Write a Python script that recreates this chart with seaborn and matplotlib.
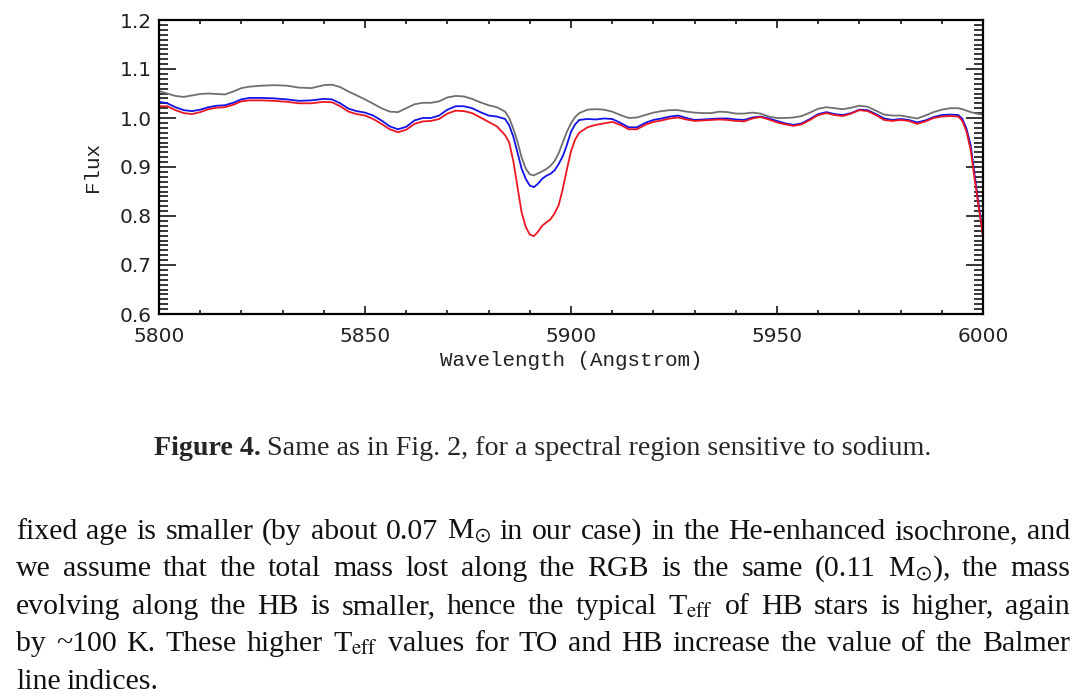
import numpy as np
import pandas as pd
import matplotlib
matplotlib.use("Agg")
import matplotlib.pyplot as plt
from matplotlib.ticker import MultipleLocator, FormatStrFormatter
import seaborn as sns

# wavelength grid (Angstrom) shared by the three synthetic spectra
wavelength = [5800, 5802, 5804, 5806, 5808, 5810, 5812, 5814, 5816, 5818, 5820, 5822,
              5825, 5828, 5831, 5834, 5837, 5840, 5842, 5844, 5846, 5848, 5850, 5852,
              5854, 5856, 5858, 5860, 5862, 5864, 5866, 5868, 5870, 5872, 5874, 5876,
              5878, 5880, 5882, 5884, 5885, 5886, 5887, 5888, 5889, 5890, 5891, 5892,
              5893, 5894, 5895, 5896, 5897, 5898, 5899, 5900, 5901, 5902, 5904, 5906,
              5908, 5910, 5912, 5914, 5916, 5918, 5920, 5922, 5924, 5926, 5928, 5930,
              5932, 5934, 5936, 5938, 5940, 5942, 5944, 5946, 5948, 5950, 5952, 5954,
              5956, 5958, 5960, 5962, 5964, 5966, 5968, 5970, 5972, 5974, 5976, 5978,
              5980, 5982, 5984, 5986, 5988, 5990, 5992, 5994, 5995, 5996, 5997, 5998,
              5999, 6000]

flux_gray = [1.055, 1.050, 1.045, 1.043, 1.046, 1.049, 1.050, 1.049, 1.048, 1.054, 1.061, 1.064,
             1.066, 1.067, 1.066, 1.062, 1.061, 1.067, 1.068, 1.063, 1.054, 1.046, 1.038, 1.029,
             1.020, 1.013, 1.012, 1.020, 1.028, 1.031, 1.031, 1.034, 1.042, 1.045, 1.044, 1.039,
             1.032, 1.026, 1.022, 1.013, 1.000, 0.978, 0.952, 0.920, 0.897, 0.885, 0.883, 0.887,
             0.891, 0.896, 0.902, 0.912, 0.928, 0.950, 0.972, 0.989, 1.002, 1.010, 1.017, 1.018,
             1.017, 1.013, 1.006, 1.000, 1.001, 1.006, 1.011, 1.014, 1.016, 1.016, 1.013, 1.011,
             1.010, 1.010, 1.013, 1.012, 1.009, 1.009, 1.011, 1.009, 1.003, 1.000, 1.000, 1.001,
             1.004, 1.011, 1.019, 1.022, 1.020, 1.018, 1.021, 1.025, 1.023, 1.015, 1.007, 1.005,
             1.005, 1.002, 0.999, 1.005, 1.012, 1.017, 1.020, 1.020, 1.018, 1.015, 1.012, 1.010,
             1.008, 1.007]

flux_blue = [1.033, 1.030, 1.022, 1.016, 1.014, 1.017, 1.022, 1.025, 1.026, 1.031, 1.038, 1.041,
             1.041, 1.040, 1.038, 1.035, 1.036, 1.039, 1.038, 1.030, 1.019, 1.014, 1.011, 1.005,
             0.995, 0.983, 0.977, 0.982, 0.995, 1.000, 1.000, 1.005, 1.017, 1.024, 1.024, 1.020,
             1.012, 1.005, 1.003, 0.998, 0.985, 0.962, 0.930, 0.897, 0.876, 0.862, 0.859, 0.866,
             0.876, 0.882, 0.886, 0.893, 0.906, 0.922, 0.945, 0.972, 0.987, 0.996, 0.998, 0.997,
             0.999, 0.998, 0.990, 0.981, 0.981, 0.990, 0.996, 0.999, 1.003, 1.005, 1.000, 0.996,
             0.997, 0.998, 0.999, 0.999, 0.997, 0.996, 1.001, 1.003, 0.999, 0.994, 0.989, 0.986,
             0.989, 0.998, 1.008, 1.012, 1.008, 1.006, 1.010, 1.017, 1.016, 1.008, 0.999, 0.996,
             0.998, 0.996, 0.991, 0.995, 1.002, 1.006, 1.007, 1.006, 0.998, 0.978, 0.945, 0.882,
             0.820, 0.762]

flux_red = [1.024, 1.024, 1.016, 1.010, 1.008, 1.012, 1.018, 1.021, 1.022, 1.027, 1.034, 1.036,
            1.036, 1.035, 1.033, 1.030, 1.030, 1.033, 1.032, 1.024, 1.013, 1.008, 1.005, 0.998,
            0.988, 0.977, 0.971, 0.976, 0.988, 0.993, 0.994, 0.998, 1.009, 1.015, 1.014, 1.010,
            1.001, 0.992, 0.983, 0.965, 0.950, 0.912, 0.860, 0.808, 0.778, 0.762, 0.759, 0.768,
            0.780, 0.787, 0.793, 0.805, 0.822, 0.855, 0.895, 0.932, 0.956, 0.970, 0.981, 0.986,
            0.989, 0.992, 0.986, 0.977, 0.977, 0.986, 0.992, 0.995, 0.999, 1.001, 0.997, 0.994,
            0.995, 0.996, 0.997, 0.996, 0.994, 0.993, 0.999, 1.002, 0.997, 0.991, 0.987, 0.984,
            0.987, 0.996, 1.006, 1.010, 1.006, 1.004, 1.009, 1.016, 1.014, 1.006, 0.996, 0.994,
            0.996, 0.994, 0.988, 0.993, 1.000, 1.003, 1.004, 1.003, 0.994, 0.972, 0.935, 0.874,
            0.815, 0.758]

models = ['gray', 'blue', 'red']
colors = {'gray': '#6f6f6f', 'blue': '#1212e8', 'red': '#ec1620'}

caption_bold = 'Figure 4.'
caption_rest = 'Same as in Fig. 2, for a spectral region sensitive to sodium.'
body_lines = [
    r'fixed age is smaller (by about 0.07 M$_{\odot}$ in our case) in the He-enhanced isochrone, and',
    r'we assume that the total mass lost along the RGB is the same (0.11 M$_{\odot}$), the mass',
    r'evolving along the HB is smaller, hence the typical T$_{\mathrm{eff}}$ of HB stars is higher, again',
    r'by ~100 K. These higher T$_{\mathrm{eff}}$ values for TO and HB increase the value of the Balmer',
    'line indices.',
]

df = pd.concat([
    pd.DataFrame({'Wavelength': wavelength, 'Flux': f, 'model': m})
    for m, f in zip(models, [flux_gray, flux_blue, flux_red])
])

sns.set_style('white')
plt.rcParams['mathtext.fontset'] = 'stix'

W, H = 1089, 700
fig = plt.figure(figsize=(W / 100, H / 100), dpi=100)
ax = fig.add_axes([159 / W, 1 - 314 / H, 824 / W, 294 / H])

sns.lineplot(data=df, x='Wavelength', y='Flux', hue='model', hue_order=models,
             palette=colors, linewidth=1.3, legend=False, ax=ax, sort=False)

ax.set_xlim(5800, 6000)
ax.set_ylim(0.6, 1.2)
ax.xaxis.set_major_locator(MultipleLocator(50))
ax.xaxis.set_minor_locator(MultipleLocator(10))
ax.yaxis.set_major_locator(MultipleLocator(0.1))
ax.yaxis.set_minor_locator(MultipleLocator(0.01))
ax.yaxis.set_major_formatter(FormatStrFormatter('%.1f'))

for s in ax.spines.values():
    s.set_linewidth(1.6)
    s.set_color('black')
ax.tick_params(which='both', direction='in', top=True, right=True, bottom=True, left=True,
               colors='black', labelsize=14.5, width=1.1)
ax.tick_params(axis='x', which='major', length=5.5, pad=9)
ax.tick_params(axis='x', which='minor', length=2.6)
ax.tick_params(axis='y', which='major', length=12.5, pad=5)
ax.tick_params(axis='y', which='minor', length=6.5)
for lab in ax.get_xticklabels() + ax.get_yticklabels():
    lab.set_fontfamily('DejaVu Sans')
    lab.set_color('#222222')

ax.set_xlabel('Wavelength (Angstrom)', fontfamily='Liberation Mono', fontsize=15, color='#222222')
ax.set_ylabel('Flux', fontfamily='Liberation Mono', fontsize=15, color='#222222')
ax.xaxis.set_label_coords(0.5, -0.125)
ax.yaxis.set_label_coords(-0.069, 0.5)

# caption and body text below the plot
renderer = fig.canvas.get_renderer()
serif = 'Liberation Serif'
cap_y = 1 - 455 / H
t1 = fig.text(0, cap_y, caption_bold, fontfamily=serif, fontweight='bold', fontsize=20.2)
t2 = fig.text(0, cap_y, caption_rest, fontfamily=serif, fontsize=20.2)
w1 = t1.get_window_extent(renderer).width
w2 = t2.get_window_extent(renderer).width
gap = 6
x0 = 542.5 - (w1 + gap + w2) / 2
t1.set_x(x0 / W)
t2.set_x((x0 + w1 + gap) / W)

left, right = 16, 1070
baselines = [539, 576, 614, 651, 689]
for i, (line, yb) in enumerate(zip(body_lines, baselines)):
    words = line.split(' ')
    texts = [fig.text(0, 1 - yb / H, w, fontfamily=serif, fontsize=21.5, va='baseline',
                      color='#111111') for w in words]
    widths = [t.get_window_extent(renderer).width for t in texts]
    if i < len(body_lines) - 1:
        space = (right - left - sum(widths)) / (len(words) - 1)
    else:
        space = 5.5
    x = left
    for t, w in zip(texts, widths):
        t.set_x(x / W)
        x += w + space

fig.savefig('out.png', dpi=100, facecolor='white')
